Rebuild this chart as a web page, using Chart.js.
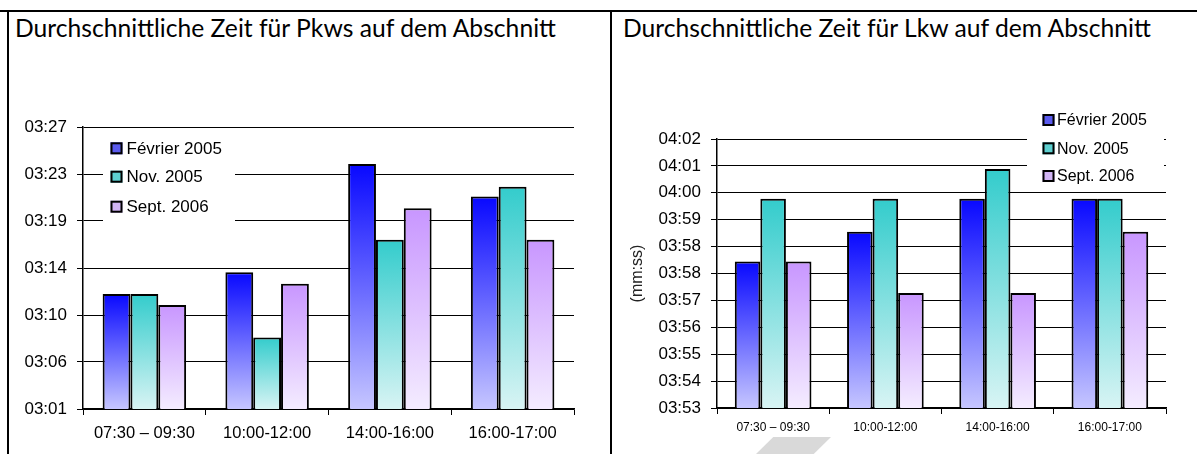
<!DOCTYPE html>
<html>
<head>
<meta charset="utf-8">
<script src="https://cdn.jsdelivr.net/npm/chart.js@4.4.0/dist/chart.umd.min.js"></script>
<style>
  html, body { margin: 0; padding: 0; background: #fff; }
  body { width: 1197px; height: 454px; position: relative; overflow: hidden; }
  .line { position: absolute; background: #000; }
  .title { position: absolute; top: 13px; font-family: Lato, "Noto Sans", sans-serif; color: #000; white-space: nowrap; line-height: 30px; font-size: 21px; }
  .wrap { position: absolute; }
  .mark { position: absolute; left: 756px; top: 437px; width: 75px; height: 17px; background: #d9d9d9;
          clip-path: polygon(23% 0, 100% 0, 77% 100%, 0 100%); }
</style>
</head>
<body>
<div class="line" style="left:0;top:10px;width:1197px;height:2px"></div>
<div class="line" style="left:7px;top:10px;width:2px;height:444px"></div>
<div class="line" style="left:610px;top:10px;width:2px;height:444px"></div>
<div class="title" id="t1" style="left:15px">Durchschnittliche Zeit für Pkws auf dem Abschnitt</div>
<div class="title" id="t2" style="left:623px">Durchschnittliche Zeit für Lkw auf dem Abschnitt</div>
<div class="wrap" style="left:9px;top:96px;width:600px;height:358px"><canvas id="c1"></canvas></div>
<div class="wrap" style="left:613px;top:96px;width:584px;height:358px"><canvas id="c2"></canvas></div>
<div class="mark"></div>
<script>
// ---- data ----
const categories = ['07:30 \u2013 09:30', '10:00-12:00', '14:00-16:00', '16:00-17:00'];
const seriesNames = ['Février 2005', 'Nov. 2005', 'Sept. 2006'];
// average times in seconds (Pkw)
const pkwFeb2005 = [191.8, 193.8, 203.8, 200.8];
const pkwNov2005 = [191.8, 187.8, 196.8, 201.7];
const pkwSep2006 = [190.8, 192.75, 199.7, 196.8];
// average times in seconds (Lkw)
const lkwFeb2005 = [237.9, 238.9, 240.0, 240.0];
const lkwNov2005 = [240.0, 240.0, 241.0, 240.0];
const lkwSep2006 = [237.9, 236.85, 236.85, 238.9];
// y-axis tick labels (bottom to top)
const pkwTickLabels = ['03:01', '03:06', '03:10', '03:14', '03:19', '03:23', '03:27'];
const lkwTickLabels = ['03:53', '03:54', '03:55', '03:56', '03:57', '03:58', '03:58', '03:59', '04:00', '04:01', '04:02'];
const pkwRange = [181.2, 207.2];
const lkwRange = [233, 242];
const yTitleLkw = '(mm:ss)';

// ---- styles ----
const gradColors = [
  ['#0808ff', '#c6c6ff'],
  ['#33cccc', '#d8f4f4'],
  ['#c896ff', '#f4ecff']
];
const legendSwatch = ['#5a5aee', '#5cd0d0', '#d2b4f6'];
const FONT = '"Liberation Sans", Arial, sans-serif';

function gradientFill(idx) {
  return function (context) {
    const chart = context.chart;
    const area = chart.chartArea;
    if (!area || context.raw === undefined) return gradColors[idx][0];
    const y = chart.scales.y.getPixelForValue(context.raw);
    const g = chart.ctx.createLinearGradient(0, y, 0, area.bottom);
    g.addColorStop(0, gradColors[idx][0]);
    g.addColorStop(1, gradColors[idx][1]);
    return g;
  };
}

function makeDatasets(arrs, catPct) {
  return arrs.map((d, i) => ({
    label: seriesNames[i],
    data: d,
    backgroundColor: gradientFill(i),
    borderColor: '#000',
    borderWidth: 2,
    borderSkipped: false,
    barPercentage: 1.0,
    categoryPercentage: catPct
  }));
}

const boxLegend = {
  id: 'boxLegend',
  beforeDatasetsDraw(chart, args, opts) {
    const ctx = chart.ctx;
    ctx.save();
    ctx.fillStyle = '#fff';
    ctx.fillRect(opts.box[0], opts.box[1], opts.box[2], opts.box[3]);
    ctx.font = opts.fontSize + 'px ' + FONT;
    ctx.textBaseline = 'middle';
    ctx.textAlign = 'left';
    seriesNames.forEach((name, i) => {
      const cy = opts.rows[i];
      const s = opts.swatch;
      ctx.fillStyle = legendSwatch[i];
      ctx.fillRect(opts.swatchX, cy - s / 2, s, s);
      ctx.strokeStyle = '#000';
      ctx.lineWidth = 2;
      ctx.strokeRect(opts.swatchX + 1, cy - s / 2 + 1, s - 2, s - 2);
      ctx.fillStyle = '#000';
      ctx.fillText(name, opts.textX, cy + 1);
    });
    ctx.restore();
  }
};

function makeChart(canvasId, dataArrs, range, tickLabels, cfg) {
  const n = tickLabels.length;
  return new Chart(document.getElementById(canvasId), {
    type: 'bar',
    data: { labels: categories, datasets: makeDatasets(dataArrs, cfg.catPct) },
    plugins: [boxLegend],
    options: {
      responsive: true,
      maintainAspectRatio: false,
      animation: false,
      layout: { padding: cfg.padding },
      plugins: {
        legend: { display: false },
        tooltip: { enabled: false },
        boxLegend: cfg.legend
      },
      scales: {
        x: {
          grid: { drawOnChartArea: false, drawTicks: true, tickLength: 6, color: '#000', lineWidth: 1, offset: true },
          border: { display: true, color: '#000', width: 1.5 },
          ticks: { color: '#000', font: { family: FONT, size: cfg.xFont }, padding: cfg.xPad, maxRotation: 0, autoSkip: false },
          afterFit(scale) { scale.height = cfg.xHeight; }
        },
        y: {
          min: range[0],
          max: range[1],
          afterBuildTicks(scale) {
            const t = [];
            for (let i = 0; i < n; i++) t.push({ value: range[0] + i * (range[1] - range[0]) / (n - 1) });
            scale.ticks = t;
          },
          grid: { color: '#000', lineWidth: 1, tickLength: 6, drawTicks: true },
          border: { display: true, color: '#000', width: 1.5 },
          ticks: {
            color: '#000',
            font: { family: FONT, size: cfg.yFont },
            padding: 10,
            callback: (v, i) => tickLabels[i]
          },
          title: cfg.yTitle,
          afterFit(scale) { scale.width = cfg.yWidth; }
        }
      }
    }
  });
}

makeChart('c1', [pkwFeb2005, pkwNov2005, pkwSep2006], pkwRange, pkwTickLabels, {
  catPct: 0.68,
  padding: { top: 31, right: 35, left: 0, bottom: 0 },
  xHeight: 45, yWidth: 74, xFont: 16.5, yFont: 17, xPad: 9,
  yTitle: { display: false },
  legend: { box: [94, 36, 132, 94], rows: [52.3, 80.7, 110.7], swatch: 12, swatchX: 101.5, textX: 117.5, fontSize: 17 }
});

makeChart('c2', [lkwFeb2005, lkwNov2005, lkwSep2006], lkwRange, lkwTickLabels, {
  catPct: 0.683,
  padding: { top: 43, right: 31, left: 0, bottom: 0 },
  xHeight: 46, yWidth: 104, xFont: 12, yFont: 17, xPad: 6,
  yTitle: { display: true, text: yTitleLkw, color: '#222', font: { family: FONT, size: 16 }, padding: { top: 15, bottom: 0 } },
  legend: { box: [414, 8, 137, 84], rows: [24, 52.3, 80], swatch: 12, swatchX: 429.5, textX: 444, fontSize: 16 }
});

// fit title font size to reference text width
(function () {
  const t1 = document.getElementById('t1');
  const w = t1.getBoundingClientRect().width;
  const size = 21 * 541 / w;
  document.getElementById('t1').style.fontSize = size + 'px';
  document.getElementById('t2').style.fontSize = size + 'px';
})();
</script>
</body>
</html>
